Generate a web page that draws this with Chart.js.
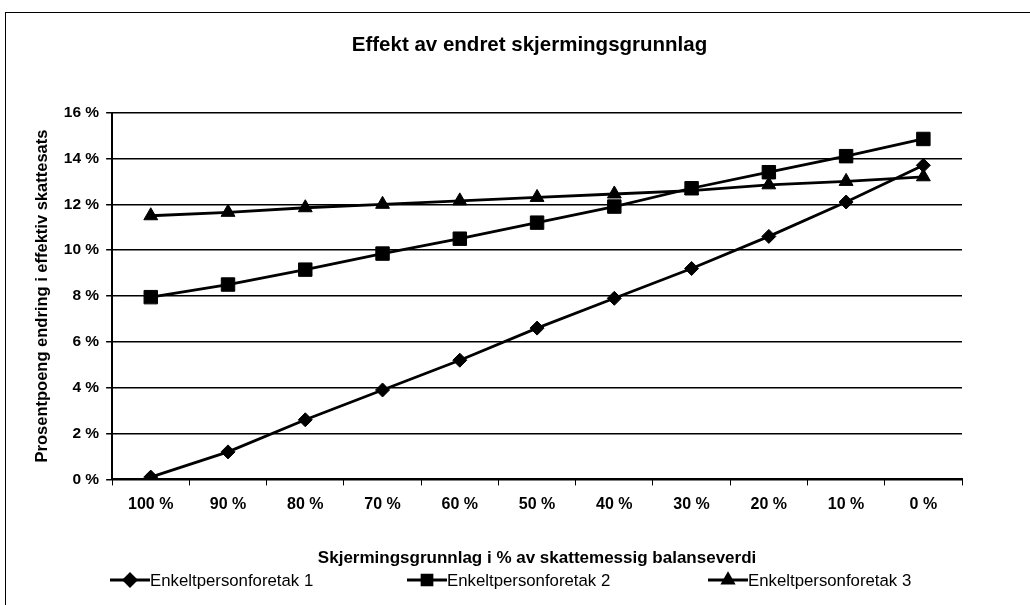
<!DOCTYPE html>
<html><head><meta charset="utf-8">
<script src="https://cdn.jsdelivr.net/npm/chart.js@4.4.1/dist/chart.umd.min.js"></script>
<style>
html,body{margin:0;padding:0;background:#fff;}
#frame{position:absolute;left:5px;top:12px;width:1030px;height:600px;border-left:1px solid #000;border-top:1px solid #000;}
#wrap{position:absolute;left:0;top:0;width:1030px;height:605px;}
</style></head>
<body>
<div id="frame"></div>
<div id="wrap"><canvas id="c" width="1030" height="605"></canvas></div>
<script>
const categories = ['100 %','90 %','80 %','70 %','60 %','50 %','40 %','30 %','20 %','10 %','0 %'];
const seriesNames = ['Enkeltpersonforetak 1','Enkeltpersonforetak 2','Enkeltpersonforetak 3'];
const ep1 = [0.1,1.2,2.6,3.9,5.2,6.6,7.9,9.2,10.6,12.1,13.7];
const ep2 = [7.95,8.5,9.15,9.85,10.5,11.2,11.9,12.7,13.4,14.1,14.85];
const ep3 = [11.5,11.65,11.85,12.0,12.15,12.3,12.45,12.6,12.85,13.0,13.2];
const yTicks = [0,2,4,6,8,10,12,14,16];

const FONT = "'Liberation Sans', Arial, sans-serif";
const styles = ['rectRot','rect','triangle'];
const radii = [7,9.5,8];
const values = [ep1,ep2,ep3];

const datasets = values.map((v,i)=>({
  label: seriesNames[i],
  data: v,
  borderColor:'#000',
  backgroundColor:'#000',
  borderWidth:2.8,
  pointStyle: styles[i],
  pointRadius: radii[i],
  pointBackgroundColor:'#000',
  pointBorderColor:'#000',
  pointBorderWidth:1,
  tension:0
}));

// legend drawn from the datasets (label + point style)
const legendX = [110, 407, 708];
const customLegend = {
  id:'customLegend',
  afterLayout(chart){
    // centre the title over the whole frame rather than the padded box
    const t = chart.titleBlock;
    if (t) { t.left += 32; t.right += 32; }
  },
  afterDraw(chart){
    const ctx = chart.ctx;
    const y = 580;
    ctx.save();
    chart.data.datasets.forEach((d,i)=>{
      const x = legendX[i];
      ctx.strokeStyle='#000'; ctx.lineWidth=2.8;
      ctx.beginPath(); ctx.moveTo(x,y); ctx.lineTo(x+40,y); ctx.stroke();
      ctx.fillStyle='#000';
      Chart.helpers.drawPoint(ctx,{pointStyle:d.pointStyle,radius:d.pointStyle==='rect'?7:6,borderWidth:1,rotation:0},x+20,y);
      ctx.fill();
      ctx.font = "16.8px "+FONT;
      ctx.textBaseline='middle'; ctx.textAlign='left';
      ctx.fillText(d.label, x+40, y+1);
    });
    ctx.restore();
  }
};

new Chart(document.getElementById('c'),{
  type:'line',
  data:{labels:categories,datasets},
  plugins:[customLegend],
  options:{
    responsive:false,
    animation:false,
    devicePixelRatio:1,
    layout:{padding:{left:33,right:68,top:33,bottom:0}},
    plugins:{
      title:{display:true,text:'Effekt av endret skjermingsgrunnlag',color:'#000',
        font:{family:FONT,size:20.5,weight:'bold'},padding:{top:0,bottom:55}},
      legend:{display:false},
      tooltip:{enabled:false}
    },
    scales:{
      x:{
        offset:true,
        grid:{display:true,offset:true,drawOnChartArea:false,drawTicks:true,tickLength:6,color:'#000',lineWidth:1},
        border:{display:true,color:'#000',width:2},
        ticks:{color:'#000',font:{family:FONT,size:16,weight:'bold'},padding:10,maxRotation:0,autoSkip:false},
        title:{display:true,text:'Skjermingsgrunnlag i % av skattemessig balanseverdi',color:'#000',
          font:{family:FONT,size:17,weight:'bold'},padding:{top:24,bottom:36}}
      },
      y:{
        min:0,max:16,
        afterBuildTicks:(ax)=>{ax.ticks = yTicks.map(v=>({value:v}));},
        grid:{color:'#000',lineWidth:1.5,drawTicks:true,tickLength:6},
        border:{display:true,color:'#000',width:2},
        ticks:{color:'#000',font:{family:FONT,size:15.5,weight:'bold'},padding:7,callback:(v)=>v+' %'},
        title:{display:true,text:'Prosentpoeng endring i effektiv skattesats',color:'#000',
          font:{family:FONT,size:16.5,weight:'bold'},padding:{top:0,bottom:4}}
      }
    }
  }
});
</script>
</body></html>
